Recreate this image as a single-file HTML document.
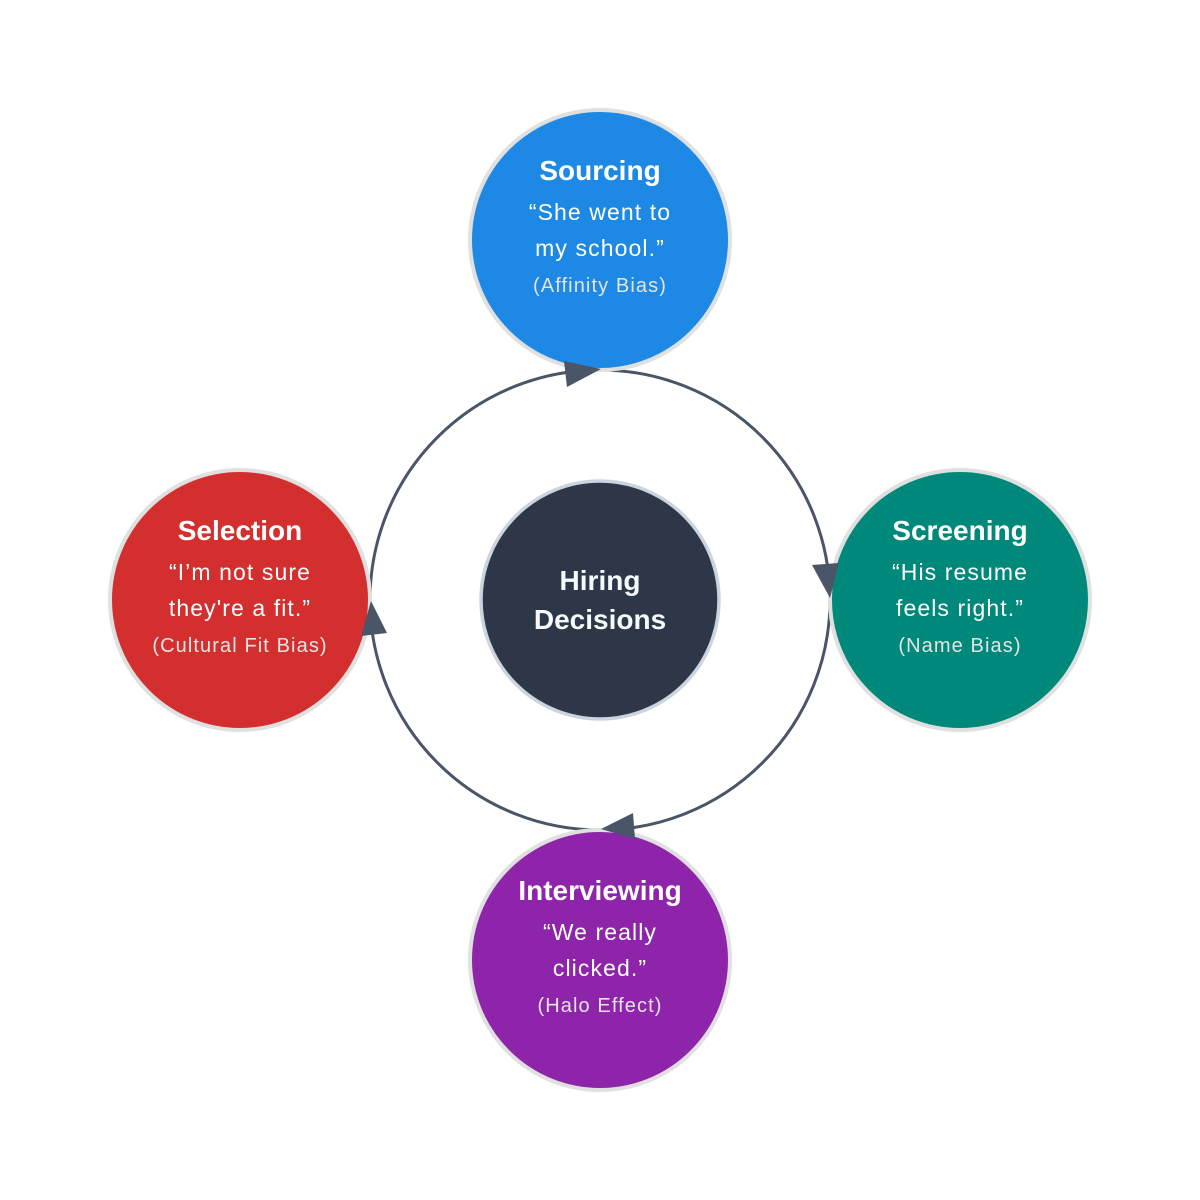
<!DOCTYPE html>
<html>
<head>
<meta charset="utf-8">
<style>
  html, body { margin: 0; padding: 0; background: #ffffff; }
  svg { display: block; }
  .t { font-family: "Liberation Sans", Arial, sans-serif; font-weight: bold; font-size: 28px; fill: #ffffff; }
  .q { font-family: "Liberation Sans", Arial, sans-serif; font-size: 23px; fill: #ffffff; letter-spacing: 1.1px; }
  .b { font-family: "Liberation Sans", Arial, sans-serif; font-size: 20px; fill: #e4e4e4; letter-spacing: 1.1px; }
  .c { font-family: "Liberation Sans", Arial, sans-serif; font-weight: bold; font-size: 28px; fill: #f7fafc; }
</style>
</head>
<body>
<svg width="1200" height="1200" viewBox="0 0 1200 1200" xmlns="http://www.w3.org/2000/svg">
  <rect width="1200" height="1200" fill="#ffffff"/>

  <!-- ring -->
  <circle cx="600" cy="600" r="230" fill="none" stroke="#4a5568" stroke-width="3"/>

  <!-- center -->
  <circle cx="600" cy="600" r="119" fill="#2d3748" stroke="#cbd5e0" stroke-width="3.5"/>
  <text class="c" x="600" y="590" text-anchor="middle">Hiring</text>
  <text class="c" x="600" y="629" text-anchor="middle">Decisions</text>

  <!-- Sourcing -->
  <circle cx="600" cy="240" r="130" fill="#1e88e5" stroke="#e0e0e0" stroke-width="4"/>
  <text class="t" x="600" y="180" text-anchor="middle">Sourcing</text>
  <text class="q" x="600" y="220" text-anchor="middle">“She went to</text>
  <text class="q" x="600" y="256" text-anchor="middle">my school.”</text>
  <text class="b" x="600" y="292" text-anchor="middle">(Affinity Bias)</text>

  <!-- Screening -->
  <circle cx="960" cy="600" r="130" fill="#00897b" stroke="#e0e0e0" stroke-width="4"/>
  <text class="t" x="960" y="540" text-anchor="middle">Screening</text>
  <text class="q" x="960" y="580" text-anchor="middle">“His resume</text>
  <text class="q" x="960" y="616" text-anchor="middle">feels right.”</text>
  <text class="b" x="960" y="652" text-anchor="middle">(Name Bias)</text>

  <!-- Interviewing -->
  <circle cx="600" cy="960" r="130" fill="#8e24aa" stroke="#e0e0e0" stroke-width="4"/>
  <text class="t" x="600" y="900" text-anchor="middle">Interviewing</text>
  <text class="q" x="600" y="940" text-anchor="middle">“We really</text>
  <text class="q" x="600" y="976" text-anchor="middle">clicked.”</text>
  <text class="b" x="600" y="1012" text-anchor="middle">(Halo Effect)</text>

  <!-- Selection -->
  <circle cx="240" cy="600" r="130" fill="#d32f2f" stroke="#e0e0e0" stroke-width="4"/>
  <text class="t" x="240" y="540" text-anchor="middle">Selection</text>
  <text class="q" x="240" y="580" text-anchor="middle">“I’m not sure</text>
  <text class="q" x="240" y="616" text-anchor="middle">they're a fit.”</text>
  <text class="b" x="240" y="652" text-anchor="middle">(Cultural Fit Bias)</text>

  <!-- arrowheads -->
  <polygon points="564,361 567,387 601,369" fill="#4a5568"/>
  <polygon points="812,565 839,563 830,598" fill="#4a5568"/>
  <polygon points="633,813 635,839 601,829" fill="#4a5568"/>
  <polygon points="371,601 361,636 387,633" fill="#4a5568"/>
</svg>
</body>
</html>
